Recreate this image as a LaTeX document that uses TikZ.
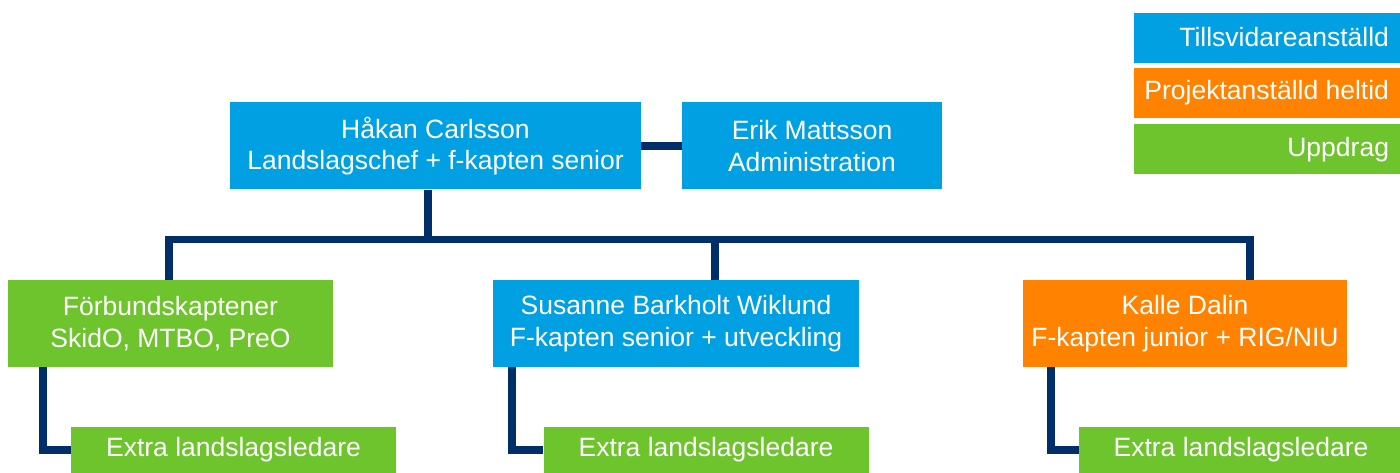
\documentclass[tikz,border=0pt]{standalone}
\usepackage{fontspec}
\setmainfont{Liberation Sans}
\definecolor{cblue}{RGB}{0,160,227}
\definecolor{corange}{RGB}{255,130,0}
\definecolor{cgreen}{RGB}{110,196,44}
\definecolor{cnavy}{RGB}{0,46,104}
\newcommand{\legtext}[1]{\raisebox{2pt}{\makebox[244pt][r]{#1}}}
\begin{document}
\begin{tikzpicture}[x=1pt,y=-1pt,
  box/.style={draw=none,text=white,inner sep=0pt,align=center,
    font=\fontsize{26.5}{31.5}\selectfont},
  big/.style={box,minimum height=87pt},
  extra/.style={box,fill=cgreen,minimum height=46pt,minimum width=325pt},
  legend/.style={box,minimum height=50pt,minimum width=266pt},
  conn/.style={draw=cnavy,line width=7.5pt,line join=miter}]
\useasboundingbox (0,0) rectangle (1400,473);
% legend
\node[legend,fill=cblue] (l1) at (1267,38) {\legtext{Tillsvidareanställd}};
\node[legend,fill=corange] (l2) at (1267,93) {\legtext{Projektanställd heltid}};
\node[legend,fill=cgreen] (l3) at (1267,149.5) {\legtext{Uppdrag}};
% top level
\node[big,fill=cblue,minimum width=411pt] (hakan) at (435.5,146) {Håkan Carlsson\\Landslagschef + f-kapten senior};
\node[big,fill=cblue,minimum width=260pt] (erik) at (812,146) {Erik Mattsson\\Administration};
% second level
\node[big,fill=cgreen,minimum width=325pt] (forb) at (170.5,323.5) {Förbundskaptener\\SkidO, MTBO, PreO};
\node[big,fill=cblue,minimum width=366pt] (sus) at (676,323.5) {Susanne Barkholt Wiklund\\F-kapten senior + utveckling};
\node[big,fill=corange,minimum width=324pt] (kalle) at (1185,323.5) {Kalle Dalin\\F-kapten junior + RIG/NIU};
% third level
\node[extra] (e1) at (233.5,450) {Extra landslagsledare};
\node[extra] (e2) at (706,450) {Extra landslagsledare};
\node[extra,minimum width=324pt] (e3) at (1241,450) {Extra landslagsledare};
% bus coordinates
\coordinate (b1) at (169,239.5);
\coordinate (b2) at (715,239.5);
\coordinate (b3) at (1250,239.5);
\coordinate (k1) at (43,0);
\coordinate (k2) at (512,0);
\coordinate (k3) at (1051,0);
% connectors
\draw[conn] (hakan.east) -- (erik.west);
\draw[conn] ([xshift=-7.5pt]hakan.south) -- ([xshift=-7.5pt]hakan.south |- b1);
\draw[conn] (forb.north -| b1) -- (b1) -- (b3) -- (kalle.north -| b3);
\draw[conn] (b2) -- (sus.north -| b2);
\draw[conn] (forb.south -| k1) |- (e1.west);
\draw[conn] (sus.south -| k2) |- (e2.west);
\draw[conn] (kalle.south -| k3) |- (e3.west);
\end{tikzpicture}
\end{document}
